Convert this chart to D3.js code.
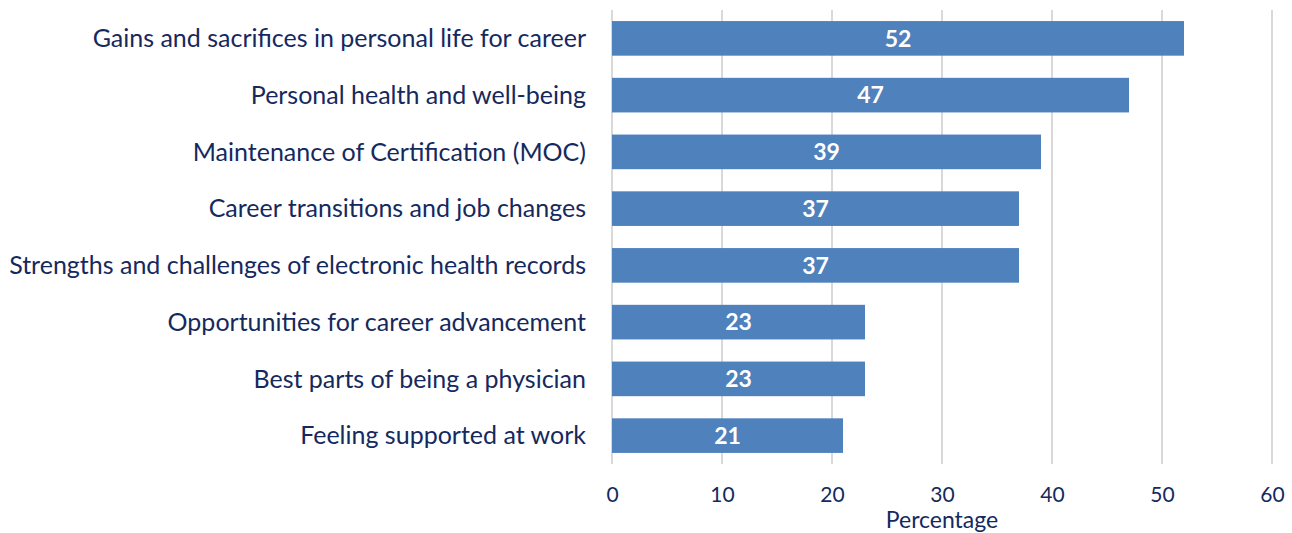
<!DOCTYPE html>
<head>
    <meta charset="utf-8">
    <script src="https://d3js.org/d3.v7.min.js"></script>
    <style type="text/css">
        body { margin: 0; background: #fff; }
        text { font-family: Lato, sans-serif; fill: #15295e; }
    </style>
</head>
<body>
<script type="text/javascript">
    // data
    var topics = ["Gains and sacrifices in personal life for career",
                  "Personal health and well-being",
                  "Maintenance of Certification (MOC)",
                  "Career transitions and job changes",
                  "Strengths and challenges of electronic health records",
                  "Opportunities for career advancement",
                  "Best parts of being a physician",
                  "Feeling supported at work"],
        percents = [52, 47, 39, 37, 37, 23, 23, 21],
        ticks = [0, 10, 20, 30, 40, 50, 60];

    var w = 1292, h = 533;

    var x = d3.scaleLinear().domain([0, 60]).range([612, 1272]);
    var y = d3.scaleBand().domain(topics).range([10, 464]).paddingInner(0.39).paddingOuter(0.195);

    var svg = d3.select("body").append("svg")
        .attr("width", w)
        .attr("height", h);

    // grid lines
    svg.selectAll("line.grid").data(ticks).enter().append("line")
        .attr("class", "grid")
        .attr("x1", function(d) { return x(d); })
        .attr("x2", function(d) { return x(d); })
        .attr("y1", 10)
        .attr("y2", 464)
        .attr("stroke", "#d9d9d9")
        .attr("stroke-width", 2);

    // bars
    svg.selectAll("rect").data(percents).enter().append("rect")
        .attr("x", x(0))
        .attr("y", function(d, i) { return y(topics[i]); })
        .attr("width", function(d) { return x(d) - x(0); })
        .attr("height", y.bandwidth())
        .attr("fill", "#4f81bd");

    // value labels
    svg.selectAll("text.val").data(percents).enter().append("text")
        .attr("class", "val")
        .attr("x", function(d) { return (x(d) + x(0)) / 2; })
        .attr("y", function(d, i) { return y(topics[i]) + y.bandwidth() / 2; })
        .attr("dy", "0.36em")
        .attr("text-anchor", "middle")
        .style("fill", "#fff")
        .style("font-weight", "bold")
        .style("font-size", "23px")
        .text(function(d) { return d; });

    // category labels
    svg.selectAll("text.cat").data(topics).enter().append("text")
        .attr("class", "cat")
        .attr("x", 586)
        .attr("y", function(d) { return y(d) + y.bandwidth() / 2; })
        .attr("dy", "0.35em")
        .attr("text-anchor", "end")
        .style("font-size", "25px")
        .text(function(d) { return d; });

    // x axis tick labels
    var axis = d3.axisBottom(x).tickValues(ticks).tickSize(0).tickPadding(0);
    var ax = svg.append("g").attr("transform", "translate(0,502)").call(axis);
    ax.select(".domain").remove();
    ax.selectAll("text")
        .attr("dy", 0)
        .style("font-size", "21px")
        .style("font-family", "Lato, sans-serif")
        .style("fill", "#15295e");

    svg.append("text")
        .attr("x", x(30))
        .attr("y", 528)
        .attr("text-anchor", "middle")
        .style("font-size", "23px")
        .text("Percentage");
</script>
</body>
</html>
